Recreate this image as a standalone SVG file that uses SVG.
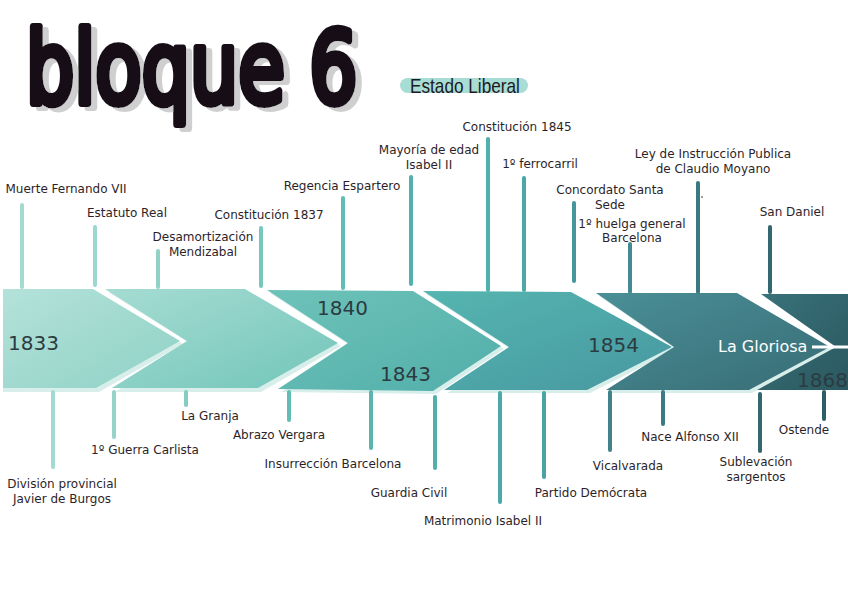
<svg xmlns="http://www.w3.org/2000/svg" width="848" height="599" viewBox="0 0 848 599">
<defs>
<style>
.lbl{font-family:"DejaVu Sans","Liberation Sans",sans-serif;font-size:12px;fill:#2d1f2a;text-anchor:middle}
.yr{font-family:"DejaVu Sans","Liberation Sans",sans-serif;font-size:20px;fill:#2c3b40}
.stem{fill:none;stroke-width:4;stroke-linecap:round}
.shadow{fill:#d8eeeb}
</style>
<filter id="tsh" x="-10%" y="-10%" width="130%" height="130%">
<feOffset in="SourceAlpha" dx="6" dy="4" result="o"/>
<feFlood flood-color="#cfcfcf"/>
<feComposite in2="o" operator="in" result="s"/>
<feMerge><feMergeNode in="s"/><feMergeNode in="SourceGraphic"/></feMerge>
</filter>
<linearGradient id="g1" x1="0" y1="0" x2="1" y2="1"><stop offset="0" stop-color="#b4e2da"/><stop offset="1" stop-color="#8fd1c5"/></linearGradient>
<linearGradient id="g2" x1="0" y1="0" x2="1" y2="1"><stop offset="0" stop-color="#a6dcd2"/><stop offset="1" stop-color="#72c5ba"/></linearGradient>
<linearGradient id="g3" x1="0" y1="0" x2="1" y2="1"><stop offset="0" stop-color="#6ec3b9"/><stop offset="1" stop-color="#52aeaa"/></linearGradient>
<linearGradient id="g4" x1="0" y1="0" x2="1" y2="1"><stop offset="0" stop-color="#55b5b0"/><stop offset="1" stop-color="#4798a0"/></linearGradient>
<linearGradient id="g5" x1="0" y1="0" x2="1" y2="1"><stop offset="0" stop-color="#4a8f97"/><stop offset="1" stop-color="#386c75"/></linearGradient>
<linearGradient id="g6" x1="0" y1="0" x2="1" y2="1"><stop offset="0" stop-color="#3a727a"/><stop offset="1" stop-color="#2a5860"/></linearGradient>
</defs>
<rect width="848" height="599" fill="#ffffff"/>

<g id="title" filter="url(#tsh)">
<text transform="translate(26 103) scale(0.76 1)" x="0" y="0" font-family="DejaVu Sans,sans-serif" font-size="100" fill="#141014" stroke="#141014" stroke-width="8" stroke-linejoin="round" stroke-linecap="round">bloque 6</text>
</g>
<g id="subtitle">
<rect x="400" y="78" width="128" height="15" rx="7.5" fill="#a8ddd5"/>
<text transform="translate(410 93) scale(0.86 1)" x="0" y="0" font-family="Liberation Sans,sans-serif" font-size="20" fill="#1d1a1d">Estado Liberal</text>
</g>

<g id="chevrons">
<g id="c1"><polygon class="shadow" points="3,292 96,292 183,344 99,392 3,392"/><polygon points="3,289 93,289 180,341 96,388 3,388" fill="url(#g1)"/><text class="yr" x="8" y="350">1833</text></g>
<g id="c2"><polygon class="shadow" points="108,292 248,292 341,346 261,392 115,392 191,344"/><polygon points="105,289 245,289 338,343 258,388 112,388 187,341" fill="url(#g2)"/></g>
<g id="c3"><polygon class="shadow" points="270,293 416,294 504,349 436,394 281,392 351,346"/><polygon points="267,290 413,291 501,346 433,391 278,389 348,343" fill="url(#g3)"/><text class="yr" x="317" y="315">1840</text><text class="yr" x="380" y="381">1843</text></g>
<g id="c4"><polygon class="shadow" points="426,294 574,295 675,350 590,393 447,393 512,350"/><polygon points="423,291 571,292 672,347 587,390 444,390 509,347" fill="url(#g4)"/><text class="yr" x="588" y="352">1854</text></g>
<g id="c5"><polygon class="shadow" points="599,296 740,296 833,350 752,393 609,393 677,350"/><polygon points="596,293 737,293 830,347 749,390 606,390 674,347" fill="url(#g5)"/><text x="718" y="352" font-family="DejaVu Sans,sans-serif" font-size="16" fill="#ffffff">La Gloriosa</text></g>
<g id="c6"><polygon points="761,294 848,294 848,390 757,390 836,347" fill="url(#g6)"/><line x1="812" y1="347" x2="848" y2="347" stroke="#ffffff" stroke-width="3"/><text class="yr" x="797" y="387">1868</text></g>
</g>

<g id="connectors">
<line class="stem" x1="22" y1="205" x2="22" y2="287" stroke="#a3dbd1"/>
<line class="stem" x1="95" y1="227" x2="95" y2="285" stroke="#9dd8ce"/>
<line class="stem" x1="158" y1="251" x2="158" y2="287" stroke="#91d2c7"/>
<line class="stem" x1="261" y1="228" x2="261" y2="286" stroke="#76c7bc"/>
<line class="stem" x1="343" y1="198" x2="343" y2="288" stroke="#62bdb4"/>
<line class="stem" x1="411" y1="177" x2="411" y2="284" stroke="#52b1ad"/>
<line class="stem" x1="488" y1="139" x2="488" y2="290" stroke="#4fb0ac"/>
<line class="stem" x1="524" y1="178" x2="524" y2="290" stroke="#4aa8a9"/>
<line class="stem" x1="574" y1="203" x2="574" y2="281" stroke="#47969d"/>
<line class="stem" x1="630" y1="244" x2="630" y2="292" stroke="#448a93"/>
<line class="stem" x1="698" y1="183" x2="698" y2="292" stroke="#3c7880"/>
<line class="stem" x1="770" y1="227" x2="770" y2="292" stroke="#336870"/>
<line class="stem" x1="53" y1="392" x2="53" y2="467" stroke="#a0dad0"/>
<line class="stem" x1="114" y1="392" x2="114" y2="437" stroke="#96d4ca"/>
<line class="stem" x1="186" y1="392" x2="186" y2="405" stroke="#84cdc2"/>
<line class="stem" x1="289" y1="392" x2="289" y2="420" stroke="#64bdb4"/>
<line class="stem" x1="371" y1="392" x2="371" y2="448" stroke="#5ab5af"/>
<line class="stem" x1="435" y1="397" x2="435" y2="468" stroke="#4fb0ac"/>
<line class="stem" x1="500" y1="393" x2="500" y2="502" stroke="#4ca9a9"/>
<line class="stem" x1="544" y1="393" x2="544" y2="477" stroke="#4aa2a5"/>
<line class="stem" x1="610" y1="392" x2="610" y2="450" stroke="#42828b"/>
<line class="stem" x1="663" y1="392" x2="663" y2="424" stroke="#3d7a83"/>
<line class="stem" x1="760" y1="394" x2="760" y2="451" stroke="#336770"/>
<line class="stem" x1="824" y1="392" x2="824" y2="419" stroke="#2e5f67"/>
<circle cx="702" cy="197" r="0.8" fill="#2d1f2a"/>
</g>

<g id="e-muerte"><text class="lbl" x="66" y="193">Muerte Fernando VII</text></g>
<g id="e-estatuto"><text class="lbl" x="127" y="217">Estatuto Real</text></g>
<g id="e-desamort"><text class="lbl" x="203" y="241">Desamortización</text><text class="lbl" x="203" y="256">Mendizabal</text></g>
<g id="e-const1837"><text class="lbl" x="269" y="219">Constitución 1837</text></g>
<g id="e-regencia"><text class="lbl" x="342" y="190">Regencia Espartero</text></g>
<g id="e-mayoria"><text class="lbl" x="429" y="154">Mayoría de edad</text><text class="lbl" x="429" y="169">Isabel II</text></g>
<g id="e-const1845"><text class="lbl" x="517" y="131">Constitución 1845</text></g>
<g id="e-ferrocarril"><text class="lbl" x="540" y="168">1º ferrocarril</text></g>
<g id="e-concordato"><text class="lbl" x="610" y="194">Concordato Santa</text><text class="lbl" x="610" y="209">Sede</text></g>
<g id="e-huelga"><text class="lbl" x="632" y="228">1º huelga general</text><text class="lbl" x="632" y="242">Barcelona</text></g>
<g id="e-ley"><text class="lbl" x="713" y="158">Ley de Instrucción Publica</text><text class="lbl" x="713" y="173">de Claudio Moyano</text></g>
<g id="e-sandaniel"><text class="lbl" x="792" y="216">San Daniel</text></g>

<g id="e-division"><text class="lbl" x="62" y="488">División provincial</text><text class="lbl" x="62" y="503">Javier de Burgos</text></g>
<g id="e-guerra"><text class="lbl" x="145" y="454">1º Guerra Carlista</text></g>
<g id="e-granja"><text class="lbl" x="210" y="420">La Granja</text></g>
<g id="e-abrazo"><text class="lbl" x="279" y="439">Abrazo Vergara</text></g>
<g id="e-insurreccion"><text class="lbl" x="333" y="468">Insurrección Barcelona</text></g>
<g id="e-guardia"><text class="lbl" x="409" y="497">Guardia Civil</text></g>
<g id="e-matrimonio"><text class="lbl" x="483" y="525">Matrimonio Isabel II</text></g>
<g id="e-partido"><text class="lbl" x="591" y="497">Partido Demócrata</text></g>
<g id="e-vicalvarada"><text class="lbl" x="628" y="470">Vicalvarada</text></g>
<g id="e-alfonso"><text class="lbl" x="690" y="441">Nace Alfonso XII</text></g>
<g id="e-sublevacion"><text class="lbl" x="756" y="466">Sublevación</text><text class="lbl" x="756" y="481">sargentos</text></g>
<g id="e-ostende"><text class="lbl" x="804" y="434">Ostende</text></g>
</svg>
